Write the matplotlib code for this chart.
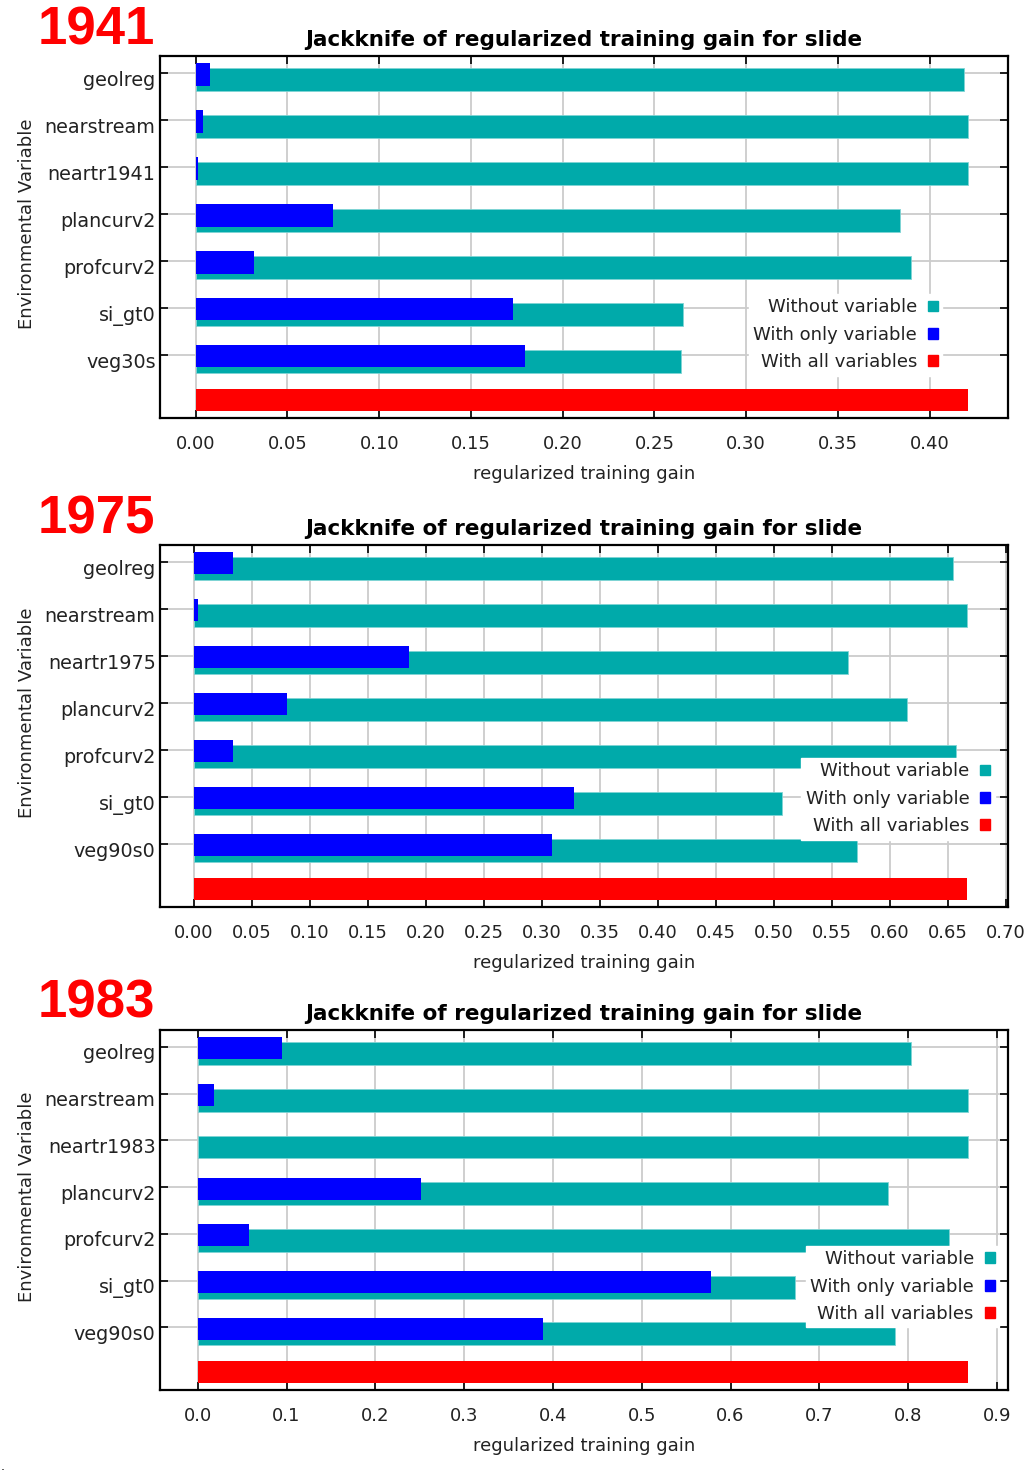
import matplotlib
matplotlib.use("Agg")
import matplotlib.pyplot as plt
from matplotlib.patches import Patch
from matplotlib.transforms import ScaledTranslation
import numpy as np

# values
years = ["1941", "1975", "1983"]

labels_1941 = ["geolreg", "nearstream", "neartr1941", "plancurv2", "profcurv2", "si_gt0", "veg30s"]
without_1941 = [0.4185, 0.4207, 0.4207, 0.3837, 0.3900, 0.2654, 0.2643]
only_1941 = [0.0076, 0.0040, 0.0010, 0.0747, 0.0316, 0.1727, 0.1793]
all_1941 = 0.4207

labels_1975 = ["geolreg", "nearstream", "neartr1975", "plancurv2", "profcurv2", "si_gt0", "veg90s0"]
without_1975 = [0.655, 0.667, 0.564, 0.615, 0.657, 0.507, 0.572]
only_1975 = [0.0336, 0.0034, 0.186, 0.080, 0.0336, 0.3276, 0.309]
all_1975 = 0.667

labels_1983 = ["geolreg", "nearstream", "neartr1983", "plancurv2", "profcurv2", "si_gt0", "veg90s0"]
without_1983 = [0.803, 0.867, 0.867, 0.777, 0.8457, 0.673, 0.785]
only_1983 = [0.0946, 0.018, 0.0, 0.251, 0.0574, 0.578, 0.3885]
all_1983 = 0.867

xticks_1941 = [0.00, 0.05, 0.10, 0.15, 0.20, 0.25, 0.30, 0.35, 0.40]
xticks_1975 = [0.00, 0.05, 0.10, 0.15, 0.20, 0.25, 0.30, 0.35, 0.40, 0.45, 0.50, 0.55, 0.60, 0.65, 0.70]
xticks_1983 = [0.0, 0.1, 0.2, 0.3, 0.4, 0.5, 0.6, 0.7, 0.8, 0.9]

TEAL = "#00AAAA"
BLUE = "#0000FF"
RED = "#FF0000"

panels = [
    (years[0], labels_1941, without_1941, only_1941, all_1941, xticks_1941, "%.2f",
     (-0.0196, 0.4425), [0.156, 0.7166, 0.828, 0.2454], (0.923, 0.343)),
    (years[1], labels_1975, without_1975, only_1975, all_1975, xticks_1975, "%.2f",
     (-0.0293, 0.7017), [0.156, 0.3851, 0.828, 0.2454], (0.985, 0.412)),
    (years[2], labels_1983, without_1983, only_1983, all_1983, xticks_1983, "%.1f",
     (-0.0428, 0.912), [0.156, 0.0576, 0.828, 0.2441], (0.990, 0.401)),
]

plt.rcParams["font.family"] = "DejaVu Sans"

fig = plt.figure(figsize=(10.24, 14.75), dpi=100)
shift_down = ScaledTranslation(0, -5 / 100, fig.dpi_scale_trans)

for year, labels, without, only, allv, xticks, fmt, xlim, rect, legpos in panels:
    ax = fig.add_axes(rect)
    rows = np.arange(len(labels))
    ax.barh(rows + 0.14, without, height=0.49, color=TEAL, edgecolor="#7fd4d4", linewidth=0.6, zorder=2)
    ax.barh(rows + 0.03, only, height=0.47, color=BLUE, linewidth=0, zorder=3)
    ax.barh(len(labels) - 0.04, allv, height=0.47, color=RED, linewidth=0, zorder=3)

    ax.set_xlim(*xlim)
    ax.set_ylim(7.34, -0.362)
    ax.set_xticks(xticks)
    ax.set_xticklabels([fmt % t for t in xticks])
    ax.set_yticks(rows)
    ax.set_yticklabels(labels)
    ax.tick_params(direction="in", length=6, width=1.2, top=True, right=True,
                   labelsize=13, colors="black", labelcolor="#222222")
    ax.tick_params(axis="x", pad=12)
    ax.tick_params(axis="y", pad=3, labelsize=13.8)
    for lab in ax.get_yticklabels():
        lab.set_transform(lab.get_transform() + shift_down)
    ax.grid(True, color="#cccccc", linewidth=1.3, zorder=0)
    ax.set_axisbelow(True)
    for s in ax.spines.values():
        s.set_linewidth(1.6)

    ax.set_title("Jackknife of regularized training gain for slide",
                 fontsize=15.5, fontweight="bold", pad=7)
    ax.set_xlabel("regularized training gain", fontsize=13, color="#222222", labelpad=9)
    ax.set_ylabel("Environmental Variable", fontsize=13, color="#222222")
    ax.yaxis.set_label_coords(-0.146, 0.536)

    handles = [Patch(color=TEAL), Patch(color=BLUE), Patch(color=RED)]
    leg = ax.legend(handles, ["Without variable", "With only variable", "With all variables"],
                    loc="upper right", bbox_to_anchor=legpos, markerfirst=False,
                    fontsize=13, handlelength=0.55, handleheight=0.55, handletextpad=0.6,
                    labelspacing=0.52, borderpad=0.25, borderaxespad=0,
                    frameon=True, fancybox=False, framealpha=1, edgecolor="white")
    for t in leg.get_texts():
        t.set_color("#222222")

    top_px = (1 - rect[1] - rect[3]) * 1475
    fig.text(155 / 1024, 1 - (top_px - 12) / 1475, year, color=RED, fontsize=38,
             fontweight="bold", family="Liberation Sans", ha="right", va="baseline")

fig.text(0.001, 1 - 1470 / 1475, ".", fontsize=9)

fig.savefig("out.png", dpi=100)
